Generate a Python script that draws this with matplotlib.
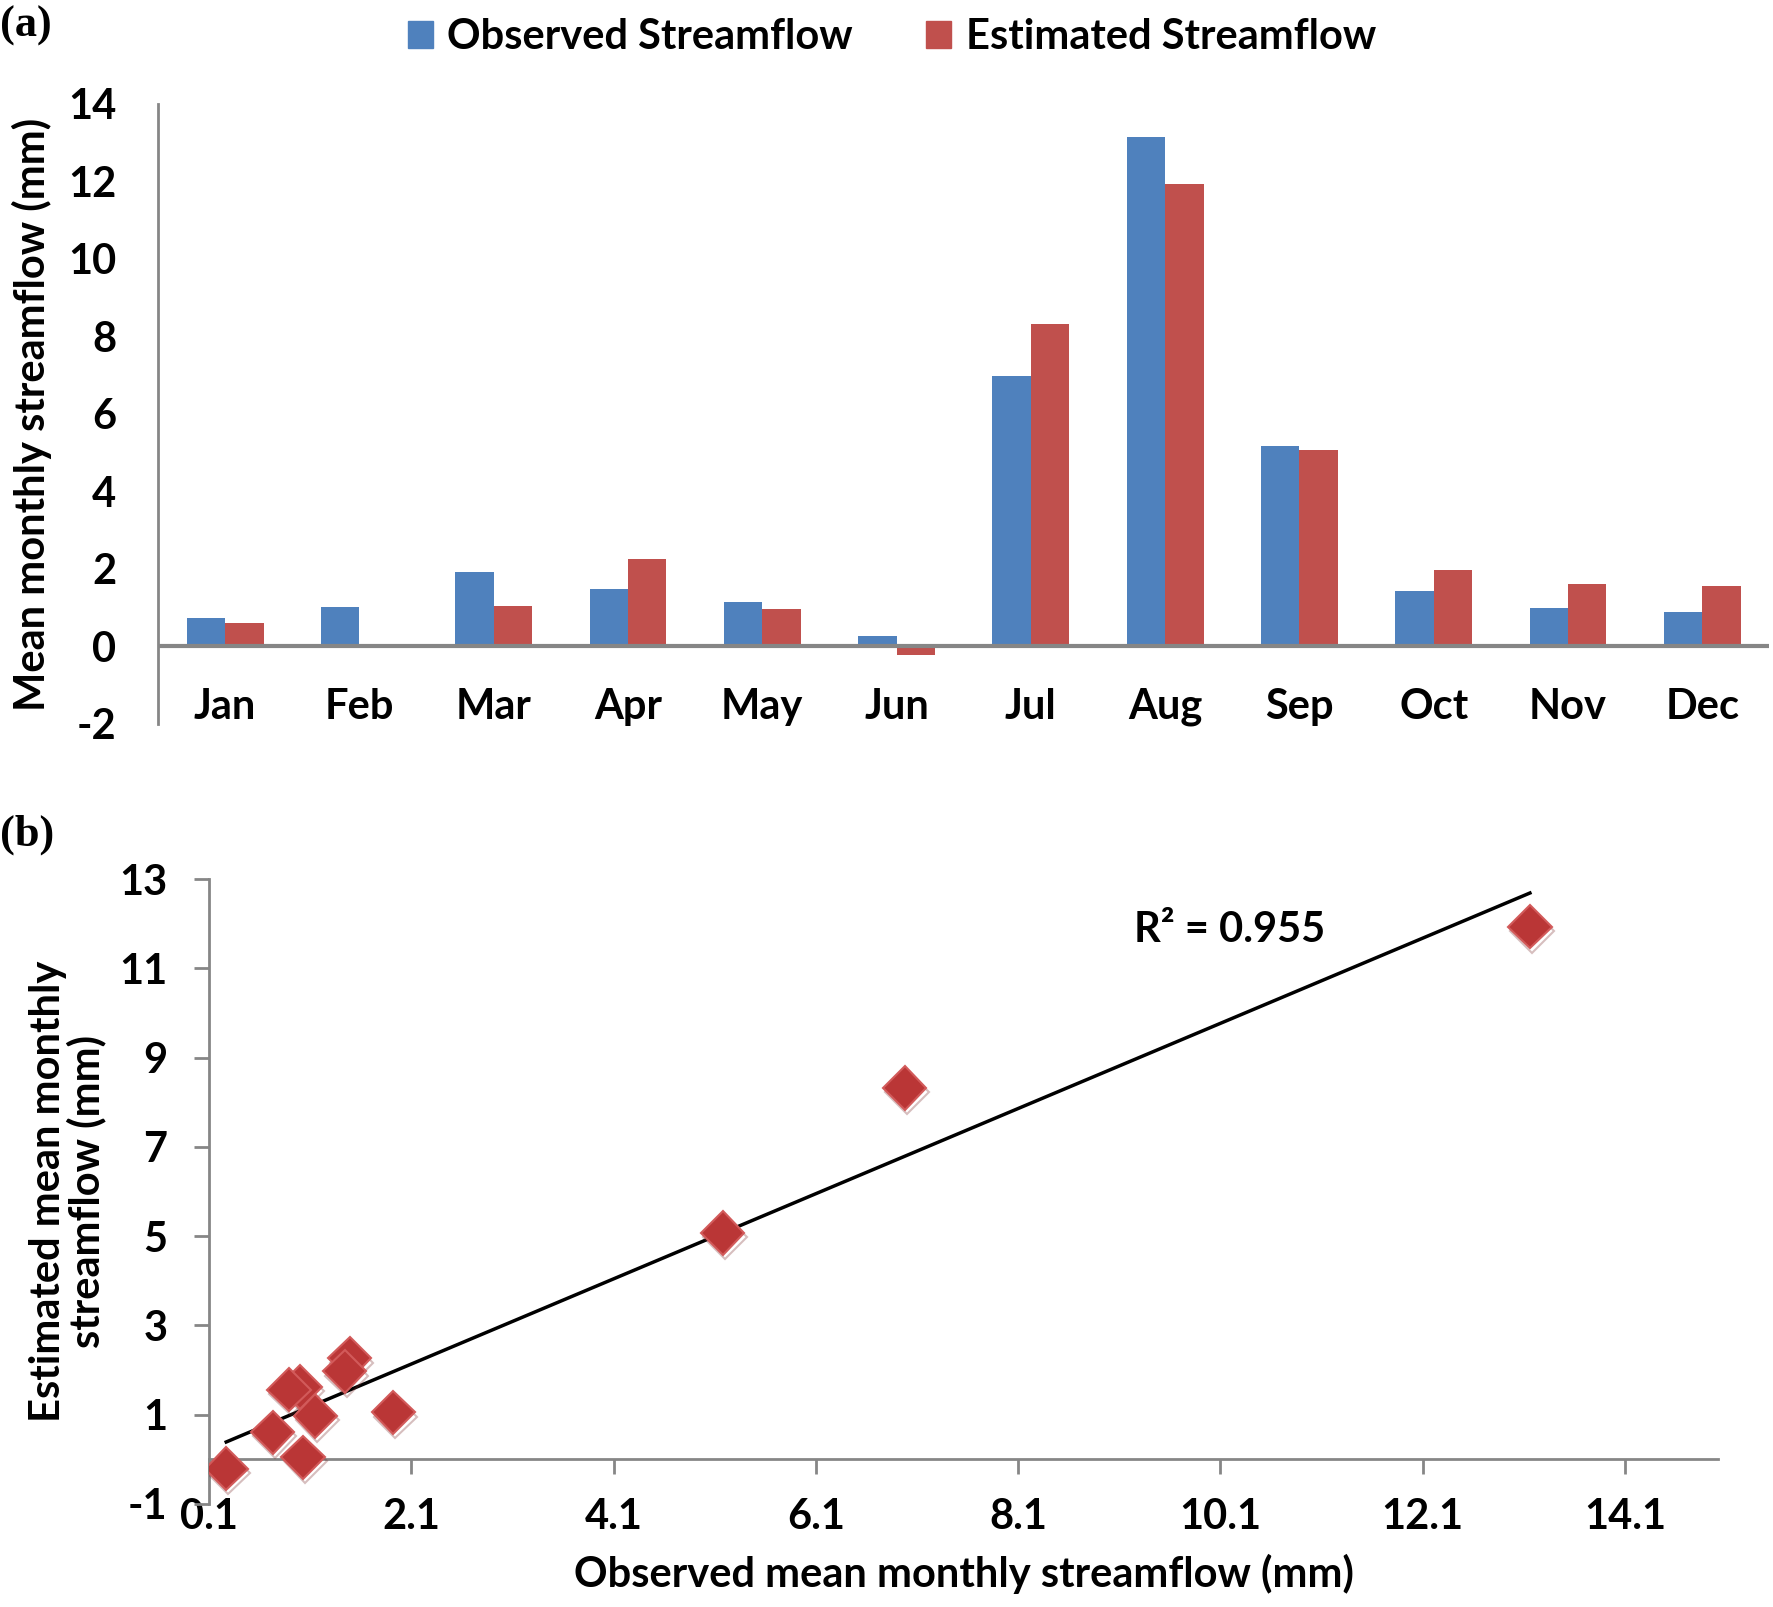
import numpy as np
import matplotlib.pyplot as plt
import matplotlib.patheffects as pe
from matplotlib.patches import Patch

months = ['Jan', 'Feb', 'Mar', 'Apr', 'May', 'Jun',
          'Jul', 'Aug', 'Sep', 'Oct', 'Nov', 'Dec']
observed = [0.73, 1.03, 1.92, 1.49, 1.15, 0.27, 6.98, 13.16, 5.18, 1.44, 1.00, 0.89]
estimated = [0.61, 0.05, 1.05, 2.26, 0.97, -0.21, 8.32, 11.93, 5.07, 1.97, 1.62, 1.56]
bar_yticks = list(range(-2, 15, 2))
sc_xticks = [0.1, 2.1, 4.1, 6.1, 8.1, 10.1, 12.1, 14.1]
sc_yticks = list(range(-1, 14, 2))
r2_text = 'R² = 0.955'

blue = '#4F81BD'
red = '#C0504D'
grey = '#868686'

plt.rcParams['font.family'] = ['Lato', 'DejaVu Sans']
plt.rcParams['font.weight'] = 'bold'
plt.rcParams['axes.labelweight'] = 'bold'
plt.rcParams['axes.unicode_minus'] = False
plt.rcParams['font.size'] = 30

fig = plt.figure(figsize=(17.73, 16.07), dpi=100)

# (a) bar chart
ax1 = fig.add_axes([0.0891, 0.5495, 0.9089, 0.3858])
x = np.arange(len(months))
w = 0.286
ax1.bar(x - w / 2, observed, w, color=blue, label='Observed Streamflow')
ax1.bar(x + w / 2, estimated, w, color=red, label='Estimated Streamflow')
ax1.axhline(0, color=grey, lw=3, zorder=3)
ax1.set_xlim(-0.5, len(months) - 0.5)
ax1.set_ylim(-2, 14)
ax1.set_yticks(bar_yticks)
ax1.set_xticks(x)
ax1.set_xticklabels(months)
for s in ['top', 'right', 'bottom']:
    ax1.spines[s].set_visible(False)
ax1.spines['left'].set_color(grey)
ax1.spines['left'].set_linewidth(2)
ax1.tick_params(axis='y', length=0, pad=30)
ax1.tick_params(axis='x', length=0, pad=-26)
ax1.set_ylabel('Mean monthly streamflow (mm)')
ax1.yaxis.set_label_coords(-0.066, 0.5)

handles = [Patch(color=blue), Patch(color=red)]
fig.legend(handles, ['Observed Streamflow', 'Estimated Streamflow'],
           loc='upper center', bbox_to_anchor=(0.503, 1.012), ncol=2,
           frameon=False, handlelength=0.6, handleheight=0.6,
           handletextpad=0.35, columnspacing=1.75)

fig.text(0.0, 0.984, '(a)', family='Liberation Serif', weight='bold',
         fontsize=32, va='center', ha='left')
fig.text(0.0, 0.4805, '(b)', family='Liberation Serif', weight='bold',
         fontsize=32, va='center', ha='left')

# (b) scatter
ax2 = fig.add_axes([0.1179, 0.0641, 0.8511, 0.3889])
coef = np.polyfit(observed, estimated, 1)
xs = np.array([min(observed), max(observed)])
ax2.plot(xs, np.polyval(coef, xs), color='black', lw=2.5, zorder=2)
ax2.plot(observed, estimated, 'D', ms=22, mfc='#BA3636', mec='#D25A5A', mew=1.5,
         zorder=3,
         path_effects=[pe.SimpleLineShadow(offset=(1.5, -3), shadow_color='#7a2a2a',
                                           alpha=0.3), pe.Normal()])
ax2.text(10.19, 11.86, r2_text, ha='center', va='center')
ax2.set_xlim(0.1, 15.02)
ax2.set_ylim(-1, 13)
ax2.set_xticks(sc_xticks)
ax2.set_xticklabels([f'{v:.1f}' for v in sc_xticks])
ax2.set_yticks(sc_yticks)
for s in ['top', 'right']:
    ax2.spines[s].set_visible(False)
ax2.spines['bottom'].set_position(('data', 0))
for s in ['left', 'bottom']:
    ax2.spines[s].set_color(grey)
    ax2.spines[s].set_linewidth(2)
ax2.tick_params(axis='both', direction='out', length=11, width=2, color=grey)
ax2.tick_params(axis='x', pad=17)
ax2.tick_params(axis='y', pad=19)
ax2.set_ylabel('Estimated mean monthly\nstreamflow (mm)', linespacing=1.0)
ax2.yaxis.set_label_coords(-0.068, 0.5)
ax2.set_xlabel('Observed mean monthly streamflow (mm)')
ax2.xaxis.set_label_coords(0.5, -0.08)

fig.savefig('out.png', dpi=100)
